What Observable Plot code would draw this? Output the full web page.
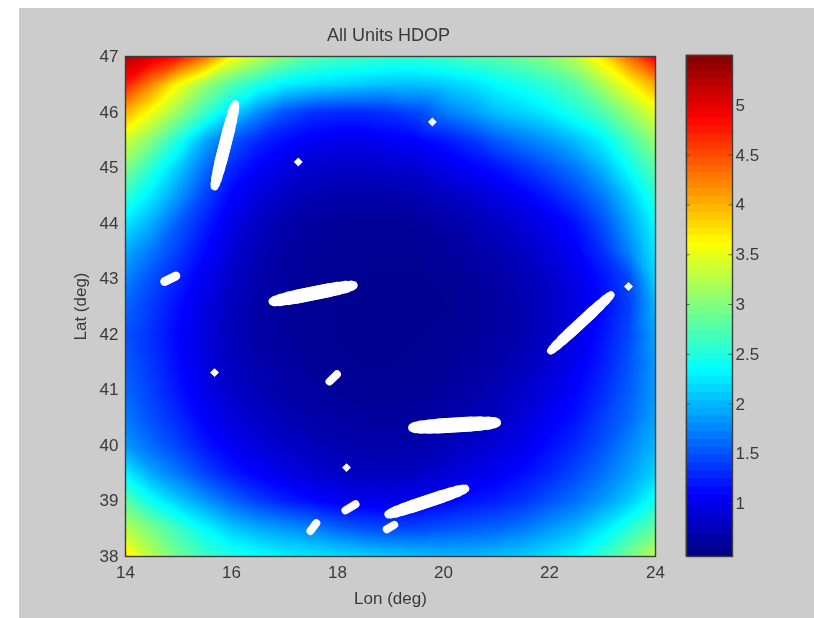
<!DOCTYPE html>
<html><head><meta charset="utf-8">
<script src="https://cdn.jsdelivr.net/npm/d3@7"></script>
<script src="https://cdn.jsdelivr.net/npm/@observablehq/plot@0.6"></script>
<style>
html,body{margin:0;padding:0;background:#fff}
#wrap{position:relative;width:814px;height:618px;overflow:hidden}
#panel{position:absolute;left:19px;top:8px;right:0;bottom:0;background:#cccccc}
#wrap svg{position:absolute;left:0;top:0;filter:blur(0.5px)}
</style></head><body>
<div id="wrap"><div id="panel"></div></div>
<script>
const lons = [14,14.5,15,15.5,16,16.5,17,17.5,18,18.5,19,19.5,20,20.5,21,21.5,22,22.5,23,23.5,24];
const lats = [47,46.5,46,45.5,45,44.5,44,43.5,43,42.5,42,41.5,41,40.5,40,39.5,39,38.5,38];
const hdopRows = [
[5.25,5.05,4.8,4.35,3.65,3.3,3.0,2.8,2.7,2.65,2.6,2.6,2.65,2.75,2.8,2.9,3.05,3.3,3.75,4.35,4.95],
[4.75,4.2,3.6,3.1,2.75,2.5,2.3,2.2,2.15,2.1,2.05,2.05,2.1,2.2,2.35,2.45,2.6,2.8,3.2,3.6,4.05],
[4.0,3.55,3.1,2.65,2.2,1.8,1.5,1.35,1.3,1.3,1.35,1.45,1.7,1.85,2.05,2.15,2.3,2.5,2.75,3.1,3.5],
[3.4,3.0,2.5,1.95,1.55,1.3,1.15,1.05,1.0,1.0,1.05,1.1,1.2,1.35,1.55,1.7,1.85,2.05,2.3,2.7,3.1],
[3.0,2.55,2.1,1.65,1.28,1.08,0.95,0.86,0.82,0.82,0.85,0.88,0.98,1.08,1.18,1.33,1.5,1.7,2.0,2.4,2.8],
[2.6,2.25,1.85,1.42,1.1,0.92,0.8,0.72,0.68,0.67,0.68,0.72,0.78,0.86,0.96,1.07,1.22,1.43,1.7,2.1,2.55],
[2.25,1.95,1.55,1.25,0.98,0.8,0.69,0.63,0.6,0.59,0.59,0.61,0.65,0.72,0.8,0.9,1.02,1.18,1.48,1.9,2.35],
[1.95,1.68,1.4,1.13,0.9,0.73,0.64,0.6,0.57,0.56,0.56,0.56,0.6,0.65,0.72,0.8,0.92,1.08,1.33,1.75,2.25],
[1.75,1.48,1.25,1.02,0.82,0.69,0.62,0.58,0.56,0.55,0.55,0.55,0.56,0.59,0.65,0.72,0.84,0.98,1.18,1.45,2.15],
[1.6,1.38,1.15,0.94,0.77,0.66,0.6,0.57,0.55,0.54,0.54,0.54,0.55,0.58,0.63,0.7,0.81,0.95,1.13,1.4,2.0],
[1.5,1.32,1.1,0.92,0.75,0.66,0.6,0.57,0.55,0.54,0.54,0.55,0.56,0.59,0.63,0.7,0.81,0.97,1.18,1.45,1.9],
[1.55,1.35,1.13,0.94,0.78,0.69,0.63,0.59,0.57,0.55,0.55,0.56,0.58,0.62,0.67,0.75,0.87,1.02,1.23,1.5,1.85],
[1.6,1.4,1.18,0.99,0.83,0.74,0.67,0.62,0.59,0.57,0.57,0.58,0.61,0.66,0.73,0.83,0.95,1.1,1.3,1.55,1.85],
[1.7,1.48,1.28,1.07,0.92,0.82,0.73,0.68,0.64,0.61,0.61,0.62,0.66,0.73,0.8,0.9,1.05,1.18,1.4,1.62,1.9],
[1.85,1.62,1.42,1.2,1.03,0.92,0.83,0.76,0.71,0.68,0.68,0.68,0.75,0.83,0.9,1.0,1.15,1.3,1.5,1.75,2.0],
[2.3,1.92,1.68,1.42,1.22,1.08,0.97,0.88,0.82,0.78,0.76,0.8,0.88,0.96,1.04,1.15,1.28,1.45,1.65,1.88,2.15],
[2.8,2.4,2.1,1.85,1.6,1.4,1.25,1.15,1.05,1.0,1.0,1.03,1.1,1.18,1.25,1.35,1.5,1.65,1.85,2.1,2.45],
[3.25,2.95,2.65,2.35,2.1,1.95,1.85,1.75,1.6,1.5,1.45,1.45,1.5,1.55,1.6,1.7,1.85,2.0,2.25,2.55,2.85],
[3.75,3.25,2.9,2.65,2.5,2.4,2.3,2.25,2.2,2.15,2.1,2.05,2.0,2.0,2.05,2.1,2.2,2.35,2.6,2.95,3.3]
];
// white receiver tracks: lon1, lat1, lon2, lat2, widest stroke
const tracks = [
[16.07,46.14,15.68,44.66,12.5],
[14.74,42.95,14.95,43.05,9],
[16.78,42.59,18.30,42.88,14],
[17.85,41.15,17.99,41.28,8],
[18.15,38.83,18.34,38.94,8],
[17.49,38.46,17.60,38.60,8],
[18.93,38.49,19.07,38.57,8],
[18.96,38.76,20.41,39.22,13],
[19.42,40.32,21.0,40.41,15],
[22.02,41.70,23.16,42.71,11.5]
];
const taperLength = [1,0.94,0.82,0.62,0.4];
const taperWidth = [0.62,0.76,0.88,0.96,1];
const sites = [[17.26,45.10],[19.79,45.82],[15.68,41.31],[18.17,39.60],[23.49,42.86]];
const xTicks = [14,16,18,20,22,24];
const yTicks = [38,39,40,41,42,43,44,45,46,47];
const barTicks = [1,1.5,2,2.5,3,3.5,4,4.5,5];
const barDomain = [0.47,5.5];
const jetStops = ["#000080","#0000ff","#0080ff","#00ffff","#80ff80","#ffff00","#ff8000","#ff0000","#800000"];

const jet = d3.piecewise(d3.interpolateRgb, jetStops);
const colorScale = {type:"linear", domain:barDomain, interpolate:() => jet};
const ink = "#3a3a3a";
const font = {fontFamily:"'Liberation Sans',Arial,sans-serif", fontSize:"18px", background:"transparent", color:ink};
const cells = lats.flatMap((lat,i) => lons.map((lon,j) => ({lon, lat, v:hdopRows[i][j]})));
// each track is a stack of overlapping strokes: long and thin to short and wide
const trackRows = tracks.flatMap(([lon1,lat1,lon2,lat2,w]) => {
  const mx = (lon1+lon2)/2, my = (lat1+lat2)/2;
  const tapered = w >= 10;
  return (tapered ? taperLength : [1]).map((f,k) => ({
    lon1: mx+(lon1-mx)*f, lat1: my+(lat1-my)*f,
    lon2: mx+(lon2-mx)*f, lat2: my+(lat2-my)*f,
    w: tapered ? w*taperWidth[k] : w
  }));
});

const main = Plot.plot({
  width:814, height:618, marginLeft:125, marginRight:159, marginTop:56, marginBottom:62,
  style:font,
  x:{domain:[14,24]}, y:{domain:[38,47]},
  color:colorScale,
  marks:[
    Plot.raster(cells,{x:"lon",y:"lat",fill:"v",interpolate:"barycentric",pixelSize:1}),
    Plot.link(trackRows,{x1:"lon1",y1:"lat1",x2:"lon2",y2:"lat2",stroke:"#fff",strokeWidth:"w",strokeLinecap:"round"}),
    Plot.dot(sites,{x:d=>d[0],y:d=>d[1],r:4,fill:"#fff",symbol:"diamond2"}),
    Plot.frame({stroke:"#3c3c3c",strokeWidth:1.4}),
    Plot.axisX({ticks:xTicks,tickSize:0,tickPadding:9,fontSize:17,label:"Lon (deg)",labelArrow:"none",labelAnchor:"center",labelOffset:47}),
    Plot.axisY({ticks:yTicks,tickSize:0,tickPadding:7,fontSize:17,label:"Lat (deg)",labelArrow:"none",labelAnchor:"center",labelOffset:52}),
    Plot.text(["All Units HDOP"],{frameAnchor:"top",dx:-2,dy:-28,fontSize:18,fill:ink,text:d=>d})
  ]
});
const levels = d3.range(64).map(i => {
  const [a,b] = barDomain, s = (b-a)/64;
  return {y1:a+i*s, y2:a+(i+1)*s, v:a+(i+0.5)*s};
});
const bar = Plot.plot({
  width:814, height:618, marginLeft:686, marginRight:82, marginTop:55, marginBottom:62,
  style:font,
  x:{domain:[0,1],axis:null}, y:{domain:barDomain},
  color:colorScale,
  marks:[
    Plot.rectY(levels,{x1:0,x2:1,y1:"y1",y2:"y2",fill:"v",inset:-0.3}),
    Plot.ruleY(barTicks,{x1:0,x2:0.08,stroke:ink,strokeOpacity:0.7}),
    Plot.ruleY(barTicks,{x1:0.92,x2:1,stroke:ink,strokeOpacity:0.7}),
    Plot.frame({stroke:"#3c3c3c",strokeWidth:1.4}),
    Plot.axisY({anchor:"right",ticks:barTicks,tickSize:0,tickPadding:3,fontSize:17,label:null,tickFormat:d=>String(d)})
  ]
});
document.getElementById("wrap").append(main, bar);
</script>
</body></html>
